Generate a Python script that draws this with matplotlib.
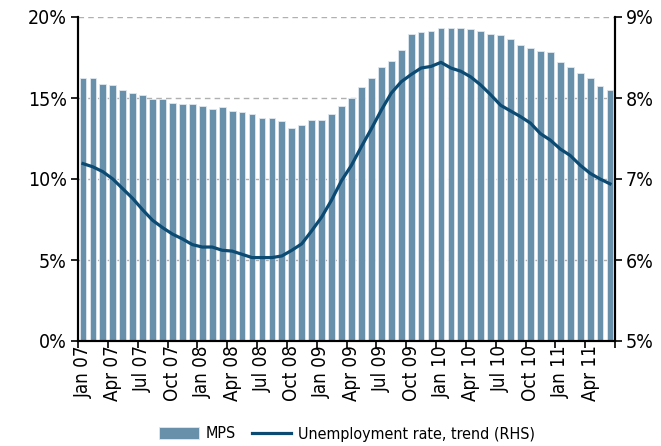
import matplotlib
matplotlib.use("Agg")
import matplotlib.pyplot as plt
import numpy as np

plt.rcParams['font.family'] = ['DejaVu Sans']
plt.rcParams['font.stretch'] = 'condensed'

months = ['Jan', 'Feb', 'Mar', 'Apr', 'May', 'Jun', 'Jul', 'Aug', 'Sep', 'Oct', 'Nov', 'Dec']
dates = [f"{m} {y:02d}" for y in range(7, 12) for m in months][:54]

mps = [16.26, 16.26, 15.87, 15.79, 15.50, 15.29, 15.19, 14.92, 14.92, 14.71,
       14.61, 14.61, 14.50, 14.32, 14.42, 14.21, 14.11, 14.03, 13.74, 13.74,
       13.55, 13.16, 13.35, 13.64, 13.64, 14.03, 14.50, 14.98, 15.66, 16.26,
       16.92, 17.31, 17.98, 18.97, 19.05, 19.15, 19.34, 19.34, 19.34, 19.26,
       19.15, 18.97, 18.86, 18.66, 18.29, 18.08, 17.89, 17.81, 17.23, 16.92,
       16.55, 16.26, 15.76, 15.50]

unemp = [7.19, 7.15, 7.09, 7.00, 6.88, 6.76, 6.62, 6.49, 6.40, 6.32,
         6.26, 6.19, 6.16, 6.16, 6.12, 6.11, 6.07, 6.03, 6.03, 6.03,
         6.05, 6.12, 6.20, 6.36, 6.53, 6.74, 6.98, 7.17, 7.40, 7.62,
         7.85, 8.06, 8.20, 8.29, 8.37, 8.39, 8.44, 8.37, 8.33, 8.26,
         8.16, 8.04, 7.91, 7.84, 7.77, 7.69, 7.56, 7.48, 7.37, 7.29,
         7.17, 7.07, 7.00, 6.94]

BAR = '#6890ab'
LINE = '#0b4a72'

fig = plt.figure(figsize=(6.61, 4.46), dpi=100)
ax = fig.add_axes([78/661, 1-341/446, (615-78)/661, (341-17)/446])
x = np.arange(len(mps))
ax.bar(x, mps, width=0.68, color=BAR, edgecolor='#dfe8ef', linewidth=0.6, zorder=2, label='MPS')
ax.set_xlim(-0.5, len(mps)-0.5)
ax.set_ylim(0, 20)
ax.set_yticks([0, 5, 10, 15, 20])
ax.set_yticklabels([f"{v}%" for v in [0, 5, 10, 15, 20]])
for v in [5, 10, 15, 20]:
    ax.axhline(v, color='#b0b0b0', lw=1.0, ls=(0, (4, 3)), zorder=1)

ax2 = ax.twinx()
ax2.plot(x, unemp, color=LINE, lw=2.3, zorder=3, label='Unemployment rate, trend (RHS)')
ax2.set_ylim(5, 9)
ax2.set_yticks([5, 6, 7, 8, 9])
ax2.set_yticklabels([f"{v}%" for v in [5, 6, 7, 8, 9]])
ax.set_zorder(ax2.get_zorder() - 1)
ax2.patch.set_visible(False)

ax.set_xticks(np.arange(-0.5, len(mps), 3))
ax.set_xticklabels([])
lbl_pos = np.arange(0, len(mps), 3)
ax.set_xticks(lbl_pos, minor=True)
ax.set_xticklabels([dates[i] for i in lbl_pos], minor=True, rotation=90, fontsize=13.5)
ax.tick_params(axis='x', which='minor', length=0, pad=3)
ax.tick_params(axis='x', which='major', length=5, width=1.2, direction='out')

for a in (ax, ax2):
    a.spines['top'].set_visible(False)
    a.spines['left'].set_linewidth(1.5)
    a.spines['right'].set_linewidth(1.5)
    a.spines['bottom'].set_linewidth(1.5)
ax.tick_params(axis='y', labelsize=14, length=5, width=1.2, pad=3)
ax2.tick_params(axis='y', labelsize=14, length=5, width=1.2, pad=3)

h1, l1 = ax.get_legend_handles_labels()
h2, l2 = ax2.get_legend_handles_labels()
fig.legend(h1 + h2, l1 + l2, loc='center', bbox_to_anchor=(347/661, 1-434/446), ncol=2,
           frameon=False, fontsize=11.5, handlelength=2.5, handleheight=0.8,
           columnspacing=1.0, handletextpad=0.4)

fig.savefig('out.png', dpi=100)
